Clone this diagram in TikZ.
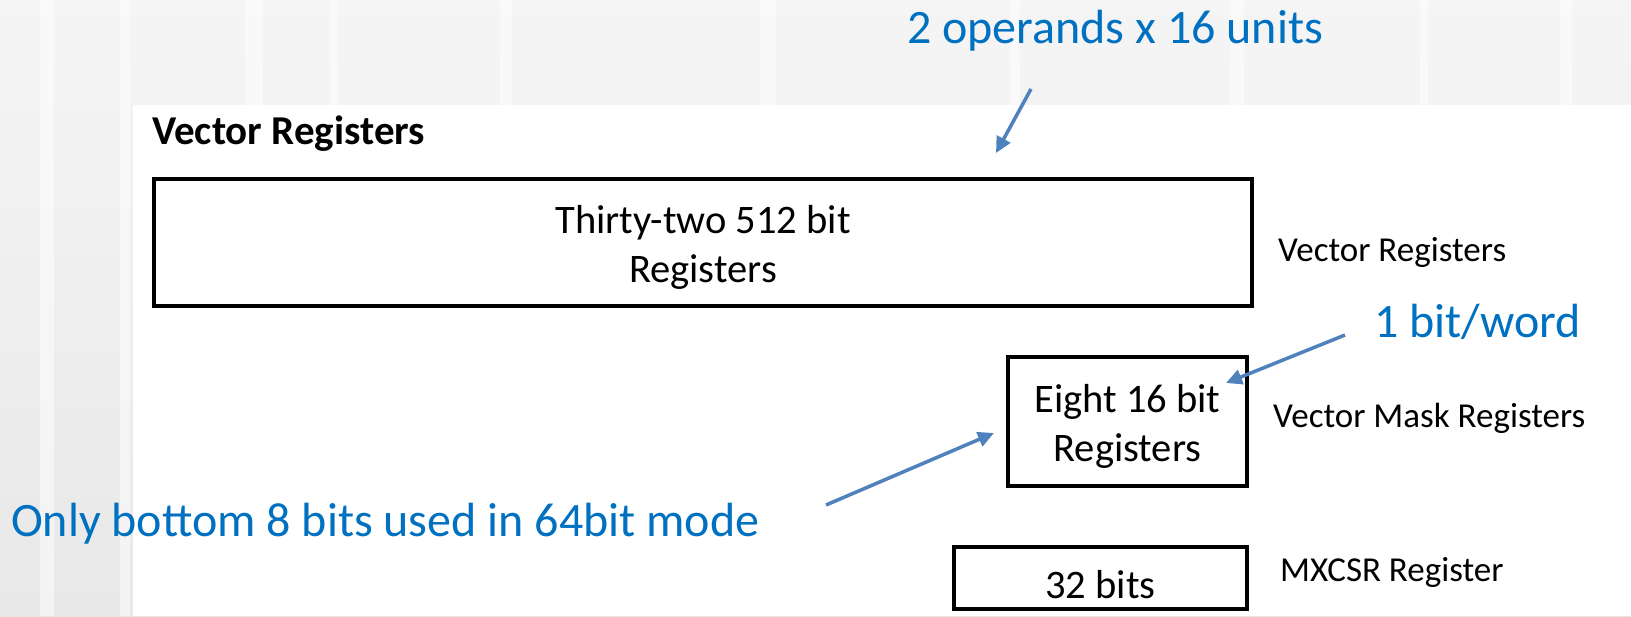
\documentclass[tikz,border=0pt]{standalone}
\usepackage{fontspec}
\setmainfont{Carlito}
\usetikzlibrary{arrows.meta}
\definecolor{noteblue}{HTML}{0070C0}
\definecolor{arrowblue}{HTML}{4F81BD}
% box text, set a little below the box centre
\newcommand{\regtext}[2][-6pt]{\raisebox{#1}[\height][\depth]{\begin{tabular}{@{}c@{}}#2\end{tabular}}}
\tikzset{
  regbox/.style={draw=black,line width=4pt,inner sep=0pt,
    font=\fontsize{40.5}{49}\selectfont},
  reglabel/.style={anchor=base west,inner sep=0pt,font=\fontsize{35}{38}\selectfont},
  note/.style={anchor=base west,inner sep=0pt,text=noteblue,font=\fontsize{48}{52}\selectfont},
  pointer/.style={arrowblue,line width=3.5pt,-{Triangle[width=15pt,length=16pt]}}
}
\begin{document}
\begin{tikzpicture}[x=1pt,y=-1pt]
  \useasboundingbox (0,0) rectangle (1631,616);
  % background and slide panel
  \shade[top color=gray!8,bottom color=gray!18] (0,0) rectangle (1631,616);
  \foreach \sx/\sw in {40/14,120/10,245/18,330/8,500/12,760/16,1010/10,1230/14,1420/8,1560/12}
    \fill[white,opacity=.5] (\sx,0) rectangle ++(\sw,616);
  \fill[white] (133,105) rectangle (1631,616);
  % title
  \node[anchor=base west,inner sep=0pt,font=\fontsize{41}{44}\selectfont\bfseries] (title) at (152,144) {Vector Registers};
  % register boxes
  \node[regbox,minimum width=1098pt,minimum height=127pt] (vregs) at (703,242.5) {\regtext{Thirty-two 512 bit\\Registers}};
  \node[regbox,minimum width=239pt,minimum height=129pt] (maskregs) at (1127.5,421.5) {\regtext{Eight 16 bit\\Registers}};
  \node[regbox,minimum width=293pt,minimum height=62pt] (mxcsr) at (1100.5,578) {\regtext[-11pt]{32 bits}};
  % labels on the right
  \node[reglabel] (vregslabel) at (1278,261) {Vector Registers};
  \node[reglabel] (masklabel) at (1273,427) {Vector Mask Registers};
  \node[reglabel] (mxcsrlabel) at (1280,581) {MXCSR Register};
  % notes
  \node[note] (operands) at (907,43) {2 operands x 16 units};
  \node[note] (bitword) at (1374,337) {1 bit/word};
  \node[note] (bottombits) at (11,536) {Only bottom 8 bits used in 64bit mode};
  \coordinate (operandsfrom) at (1031,89);
  \coordinate (operandsto) at (996,153);
  \coordinate (bitwordfrom) at (1345,335);
  \coordinate (bitwordto) at (1226,383);
  \coordinate (bottomfrom) at (826,505);
  \coordinate (bottomto) at (994,433);
  \draw[pointer] (operandsfrom) -- (operandsto);
  \draw[pointer] (bitwordfrom) -- (bitwordto);
  \draw[pointer] (bottomfrom) -- (bottomto);
\end{tikzpicture}
\end{document}
